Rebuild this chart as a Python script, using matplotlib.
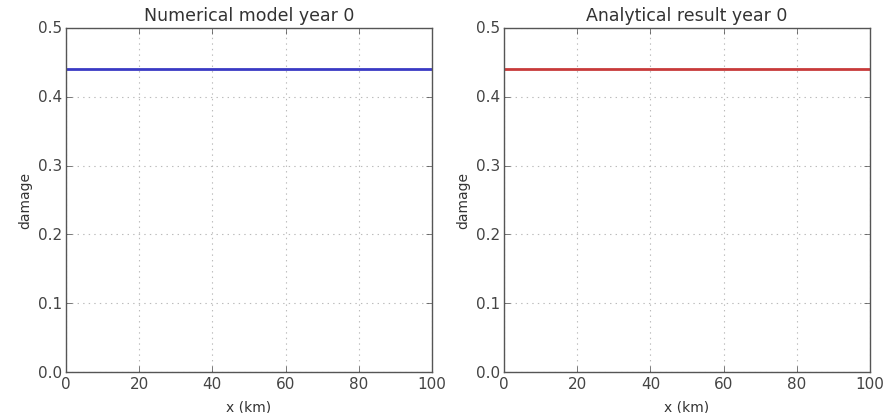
import matplotlib
matplotlib.use("Agg")
import matplotlib.pyplot as plt
import numpy as np

x_km = [0, 20, 40, 60, 80, 100]
numerical_damage = [0.44, 0.44, 0.44, 0.44, 0.44, 0.44]
analytical_damage = [0.44, 0.44, 0.44, 0.44, 0.44, 0.44]
titles = ["Numerical model year 0", "Analytical result year 0"]

plt.style.use("classic")
plt.rcParams["font.family"] = ["DejaVu Sans"]
fig = plt.figure(figsize=(8.85, 4.14), dpi=100, facecolor="white")
ax1 = fig.add_axes([0.0746, 0.099, 0.4134, 0.831])
ax2 = fig.add_axes([0.5695, 0.099, 0.4135, 0.831])

for ax, data, color, title in [(ax1, numerical_damage, "#3a3ac4", titles[0]),
                               (ax2, analytical_damage, "#c83a3a", titles[1])]:
    ax.set_axisbelow(True)
    ax.plot(x_km, data, color=color, lw=2)
    ax.set_xlim(0, 100)
    ax.set_ylim(0, 0.5)
    ax.set_xticks([0, 20, 40, 60, 80, 100])
    ax.set_yticks([0.0, 0.1, 0.2, 0.3, 0.4, 0.5])
    ax.grid(True, color="#bbbbbb", linestyle=":", linewidth=0.8)
    ax.set_title(title, fontsize=12.5, color="#333333", pad=6)
    ax.set_xlabel("x (km)", fontsize=10, color="#333333", labelpad=6)
    ax.set_ylabel("damage", fontsize=10, color="#333333", labelpad=4)
    ax.tick_params(labelsize=11, colors="#444444", direction="in", length=4, pad=3)
    for sp in ax.spines.values():
        sp.set_color("#555555")
        sp.set_zorder(3)

fig.savefig("out.png", dpi=100, facecolor="white")
